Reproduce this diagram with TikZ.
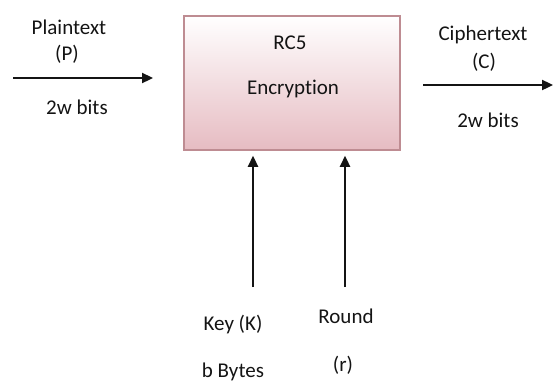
\documentclass[tikz,border=0pt]{standalone}
\usepackage{fontspec}
\setmainfont{Carlito}[Ligatures=NoCommon]
\usetikzlibrary{arrows.meta}
\definecolor{boxedge}{RGB}{190,140,146}
\definecolor{boxpink}{RGB}{230,188,194}
\definecolor{ink}{RGB}{20,20,20}
\begin{document}
\begin{tikzpicture}[x=1pt,y=-1pt,
  lbl/.style={inner sep=0pt,font=\fontsize{21}{24}\selectfont,text=ink},
  arr/.style={draw=ink,line width=2.3pt,-{Triangle[length=11pt,width=10pt]}}]
\useasboundingbox (0,0) rectangle (553,383);
\node[draw=boxedge,line width=1.5pt,top color=white,bottom color=boxpink,
  minimum width=216pt,minimum height=134pt,inner sep=0pt] (rc5) at (292,83) {};
\node[lbl] (t1) at (290,43) {RC5};
\node[lbl] (t2) at (293,89) {Encryption};
% plaintext
\node[lbl] (pt) at (69,27) {Plaintext};
\node[lbl] (pp) at (67,54) {(P)};
\node[lbl] (pb) at (77,107) {2w bits};
\coordinate (pa) at (13,78);
\coordinate (pe) at (153,78);
\draw[arr] (pa) -- (pe);
% ciphertext
\node[lbl] (ct) at (483,35) {Ciphertext};
\node[lbl] (cc) at (484,62) {(C)};
\node[lbl] (cb) at (488,120) {2w bits};
\coordinate (ca) at (423,85);
\coordinate (ce) at (553,85);
\draw[arr] (ca) -- (ce);
% key and round
\coordinate (ka) at (253,287);
\coordinate (ra) at (345,287);
\draw[arr,shorten >=5pt] (ka) -- (ka |- rc5.south);
\draw[arr,shorten >=5pt] (ra) -- (ra |- rc5.south);
\node[lbl] (kk) at (233,325) {Key (K)};
\node[lbl] (kb) at (233,372) {b Bytes};
\node[lbl] (rr) at (346,316) {Round};
\node[lbl] (rp) at (343,365) {(r)};
\end{tikzpicture}
\end{document}
